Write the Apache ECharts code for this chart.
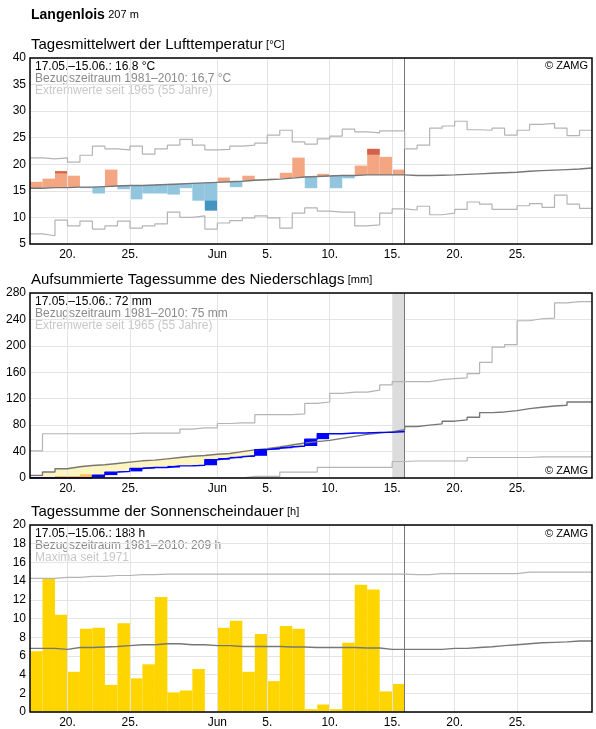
<!DOCTYPE html>
<html><head><meta charset="utf-8">
<script src="https://cdn.jsdelivr.net/npm/echarts@6/dist/echarts.min.js"></script>
<style>html,body{margin:0;padding:0;background:#fff}#c{width:596px;height:729px}</style>
</head><body><div id="c"></div>
<script>
// x: day index 0 = 17 May ... 44 = 30 June
const tickDays = [3, 8, 15, 19, 24, 29, 34, 39];
const tickLabels = ['20.', '25.', 'Jun', '5.', '10.', '15.', '20.', '25.'];

// Temperature (°C)
const tempObs = [16.7,17.3,18.7,17.85,15.5,14.5,19.0,15.3,13.4,14.5,14.5,14.3,15.5,13.15,11.3,17.5,15.7,17.85,17.2,17.3,18.4,21.25,15.5,18.2,15.5,17.35,19.75,22.9,21.4,19.0];
const tempDark = [null,null,18.3,null,null,null,null,null,null,null,null,null,null,null,13.15,null,null,null,null,null,null,null,null,null,null,null,null,21.8,null,null];
const tempMean = [15.5,15.6,15.6,15.7,15.7,15.8,15.9,16.0,16.0,16.1,16.2,16.3,16.4,16.5,16.6,16.7,16.8,17.0,17.1,17.2,17.4,17.6,17.7,17.8,17.9,17.9,18.0,18.0,18.0,18.0,17.9,17.9,17.95,18.0,18.1,18.2,18.3,18.4,18.5,18.7,18.8,18.9,19.0,19.1,19.3];
const tempMax = [21.2,21.0,21.2,20.4,21.7,23.4,22.9,22.7,23.4,21.9,22.9,23.6,24.7,23.6,22.7,22.8,23.4,23.6,24.0,25.5,26.4,24.2,23.8,24.8,25.3,26.6,26.1,25.9,26.3,26.3,22.9,23.6,26.8,27.2,28.1,26.5,26.4,26.8,25.5,26.4,27.5,27.7,26.8,25.4,26.4];
const tempMin = [6.9,6.55,9.5,8.4,9.3,7.8,8.4,9.3,8.0,8.4,8.8,11.0,10.0,10.3,7.8,8.95,9.4,9.9,10.3,9.9,8.0,10.8,11.8,11.2,11.0,11.0,8.4,8.6,10.8,11.6,11.4,12.1,10.5,10.8,11.5,12.9,12.5,11.5,11.5,12.2,12.6,11.9,14.2,12.5,11.7];

// Precipitation, cumulative (mm)
const precObs = [0,0,0,0,0,4.4,8.9,10,14.3,15.8,15.8,18.3,18.3,19.3,27.7,30,32,33.6,43,45,47,48.4,58.8,67,67,68,68,69,69,70.5];
const precOrange = [1,1,3,3,5.5,0,0,0,0,0,0,0,0,0,0,0,0,0,0,0,0,0,0,0,0,0,0,0,0,0];
const precMean = [4,9,14,17,19,20,22,24,26,27,29,31,33,34,36,37,40,42.5,44.5,47,50,53,55,57,60,63,66,68,70,73,78,80,82,86,88,92,99,100,102,105,107,109,110,115,115];
const precMax = [41,67,67,67,67,67,67,67,68,68,68,68,74,76,76,82.5,83.5,83.5,96,96,96,97,113,115,128,130,130,133,141,146,146,146,149,150.5,151.5,158,175,198,202,238,241,242,265,267,267];
const precMin = [0,0,0,0,0,0,0,0,0,0,0,0,0,0,0,0,0,2.5,2.5,2.5,9,9,9,16,16,16,16,16,16,25,25.7,25.7,25.7,25.7,25.7,31,31,31,31,31,32,32,32,32,32];

// Sunshine (h)
const sunObs = [6.5,14.3,10.4,4.3,8.9,9.0,2.9,9.5,3.6,5.1,12.3,2.1,2.3,4.6,0,9.0,9.75,4.3,8.35,3.3,9.2,8.9,0.3,0.8,0.3,7.4,13.6,13.1,2.2,3.0];
const sunMean = [6.8,6.8,6.7,6.9,6.9,6.95,7.0,7.1,7.2,7.2,7.3,7.3,7.2,7.2,7.1,7.1,7.0,7.0,7.0,7.0,6.95,6.95,6.9,6.9,6.9,6.9,6.85,6.85,6.7,6.7,6.7,6.7,6.7,6.8,6.8,6.9,6.98,7.1,7.2,7.3,7.4,7.45,7.5,7.6,7.6];
const sunMax = [14.3,14.3,14.4,14.4,14.5,14.5,14.6,14.6,14.7,14.7,14.75,14.75,14.75,14.75,14.75,14.75,14.75,14.75,14.75,14.75,14.75,14.75,14.75,14.75,14.75,14.75,14.75,14.75,14.75,14.75,14.7,14.7,14.8,14.8,14.8,14.8,14.8,14.8,14.8,14.95,14.95,14.95,14.95,14.95,14.95];

const FONT = '"Liberation Sans", Arial, sans-serif';
const N = 45;
function step(arr){ const d = arr.map((v,i)=>[i,v]); d.push([arr.length, arr[arr.length-1]]); return d; }
function rectItem(api, x0, x1, y0, y1, fill){
  const p0 = api.coord([x0, y0]), p1 = api.coord([x1, y1]);
  return {type:'rect', shape:{x:p0[0], y:Math.min(p0[1],p1[1]), width:p1[0]-p0[0], height:Math.abs(p1[1]-p0[1])}, style:{fill:fill}};
}
const grids = [{top:58,height:186},{top:293,height:185},{top:525,height:187}];
const xAxes = grids.map((g,i)=>({type:'value', gridIndex:i, min:0, max:N,
  axisLine:{show:false}, axisTick:{show:false}, splitLine:{show:false},
  axisLabel:{customValues:tickDays, formatter:v=>tickLabels[tickDays.indexOf(v)], color:'#000', fontFamily:FONT, fontSize:12, margin:5}}));
const yDefs = [[5,40,5],[0,280,40],[0,20,2]];
const yAxes = yDefs.map((d,i)=>({type:'value', gridIndex:i, min:d[0], max:d[1], interval:d[2],
  axisLine:{show:false}, axisTick:{show:false},
  splitLine:{lineStyle:{color:'#e4e4e4', width:1}},
  axisLabel:{color:'#000', fontFamily:FONT, fontSize:12, margin:4}}));

function vLines(i){
  return {type:'line', xAxisIndex:i, yAxisIndex:i, data:[], silent:true,
    markLine:{symbol:'none', silent:true, label:{show:false}, lineStyle:{color:'#e4e4e4', type:'solid', width:1},
      data:tickDays.map(d=>({xAxis:d}))}, z:1};
}
function nowLine(i){
  return {type:'line', xAxisIndex:i, yAxisIndex:i, data:[], silent:true, z:20,
    markLine:{symbol:'none', silent:true, label:{show:false}, lineStyle:{color:'#777', type:'solid', width:1}, data:[{xAxis:30}]}};
}
function stepLine(i, arr, color, w, z){
  return {type:'line', xAxisIndex:i, yAxisIndex:i, step:'end', data:step(arr), symbol:'none', silent:true,
    lineStyle:{color:color, width:w}, z:z||5};
}

const series = [];
[0,1,2].forEach(i=>series.push(vLines(i)));
// Temperature
series.push({type:'custom', xAxisIndex:0, yAxisIndex:0, z:3, silent:true,
  data: tempObs.map((v,i)=>[i, tempMean[i], v]),
  renderItem:(p, api)=>{
    const i=api.value(0), b=api.value(1), v=api.value(2), dk=tempDark[i];
    const up = v>=b;
    const ch=[rectItem(api,i,i+1,b,v, up?'#f4a582':'#92c5de')];
    if(dk!=null) ch.push(rectItem(api,i,i+1,dk,v, up?'#d6604d':'#4393c3'));
    return {type:'group', children:ch};
  }});
series.push(stepLine(0,tempMax,'#b4b4b4',1.2));
series.push(stepLine(0,tempMin,'#b4b4b4',1.2));
series.push(stepLine(0,tempMean,'#777',1.4,6));
// Precipitation
series.push({type:'line', xAxisIndex:1, yAxisIndex:1, data:[], silent:true, z:2,
  markArea:{silent:true, itemStyle:{color:'#dcdcdc'}, data:[[{xAxis:29},{xAxis:30}]]}});
series.push({type:'custom', xAxisIndex:1, yAxisIndex:1, z:3, silent:true,
  data: precObs.map((v,i)=>[i,v]),
  renderItem:(p, api)=>{
    const i=api.value(0), v=api.value(1), m=precMean[i], prev=i>0?precObs[i-1]:0;
    const ch=[];
    if(m>v) ch.push(rectItem(api,i,i+1,v,m,'#fdf5bf'));
    if(precOrange[i]>0) ch.push(rectItem(api,i,i+1,0,precOrange[i],'#fdbf4f'));
    if(v>prev) ch.push(rectItem(api,i,i+1,prev,v,'#0000ff'));
    return {type:'group', children:ch};
  }});
series.push(stepLine(1,precMax,'#b4b4b4',1.2));
series.push(stepLine(1,precMin,'#b4b4b4',1.2));
series.push(stepLine(1,precMean,'#777',1.4,6));
series.push(stepLine(1,precObs,'#0000ff',1.4,7));
// Sunshine
series.push({type:'custom', xAxisIndex:2, yAxisIndex:2, z:3, silent:true,
  data: sunObs.map((v,i)=>[i,v]),
  renderItem:(p, api)=>{ const i=api.value(0), v=api.value(1);
    return v>0 ? rectItem(api,i,i+1,0,v,'#ffd500') : null; }});
series.push(stepLine(2,sunMax,'#b4b4b4',1.2));
series.push(stepLine(2,sunMean,'#777',1.4,6));
[0,1,2].forEach(i=>series.push(nowLine(i)));

function legend(top, l1, l2, l3){
  return {type:'group', left:32, top:top, z:50, children:[
    {type:'rect', left:0, top:0, shape:{width:182, height:37}, style:{fill:'#fff'}},
    {type:'text', left:3, top:1, style:{text:l1, fill:'#000', font:'12px '+FONT}},
    {type:'text', left:3, top:13, style:{text:l2, fill:'#8a8a8a', font:'12px '+FONT}},
    {type:'text', left:3, top:25, style:{text:l3, fill:'#c8c8c8', font:'12px '+FONT}}]};
}
const gfx = [
  {type:'text', left:31, top:8, style:{rich:{a:{font:'bold 14px '+FONT, fill:'#000'}, b:{font:'11px '+FONT, fill:'#000'}}, text:'{a|Langenlois} {b|207 m}'}},
  {type:'text', left:31, top:37, style:{rich:{a:{font:'15px '+FONT, fill:'#000'}, b:{font:'11px '+FONT, fill:'#000'}}, text:'{a|Tagesmittelwert der Lufttemperatur} {b|[°C]}'}},
  {type:'text', left:31, top:272, style:{rich:{a:{font:'15px '+FONT, fill:'#000'}, b:{font:'11px '+FONT, fill:'#000'}}, text:'{a|Aufsummierte Tagessumme des Niederschlags} {b|[mm]}'}},
  {type:'text', left:31, top:504, style:{rich:{a:{font:'15px '+FONT, fill:'#000'}, b:{font:'11px '+FONT, fill:'#000'}}, text:'{a|Tagessumme der Sonnenscheindauer} {b|[h]}'}},
  legend(60,'17.05.–15.06.: 16,8 °C','Bezugszeitraum 1981–2010: 16,7 °C','Extremwerte seit 1965 (55 Jahre)'),
  legend(295,'17.05.–15.06.: 72 mm','Bezugszeitraum 1981–2010: 75 mm','Extremwerte seit 1965 (55 Jahre)'),
  legend(527,'17.05.–15.06.: 188 h','Bezugszeitraum 1981–2010: 209 h','Maxima seit 1971'),
  {type:'text', right:8, top:60, z:50, style:{text:'© ZAMG', fill:'#000', font:'11px '+FONT}},
  {type:'text', right:8, top:465, z:50, style:{text:'© ZAMG', fill:'#000', font:'11px '+FONT}},
  {type:'text', right:8, top:528, z:50, style:{text:'© ZAMG', fill:'#000', font:'11px '+FONT}}
];
const chart = echarts.init(document.getElementById('c'));
chart.setOption({
  animation:false,
  grid: grids.map(g=>({left:30, right:4, top:g.top, height:g.height, show:true, borderColor:'#000', borderWidth:1.5, backgroundColor:'transparent', z:10})),
  xAxis: xAxes, yAxis: yAxes, series: series, graphic: gfx
});
</script></body></html>
